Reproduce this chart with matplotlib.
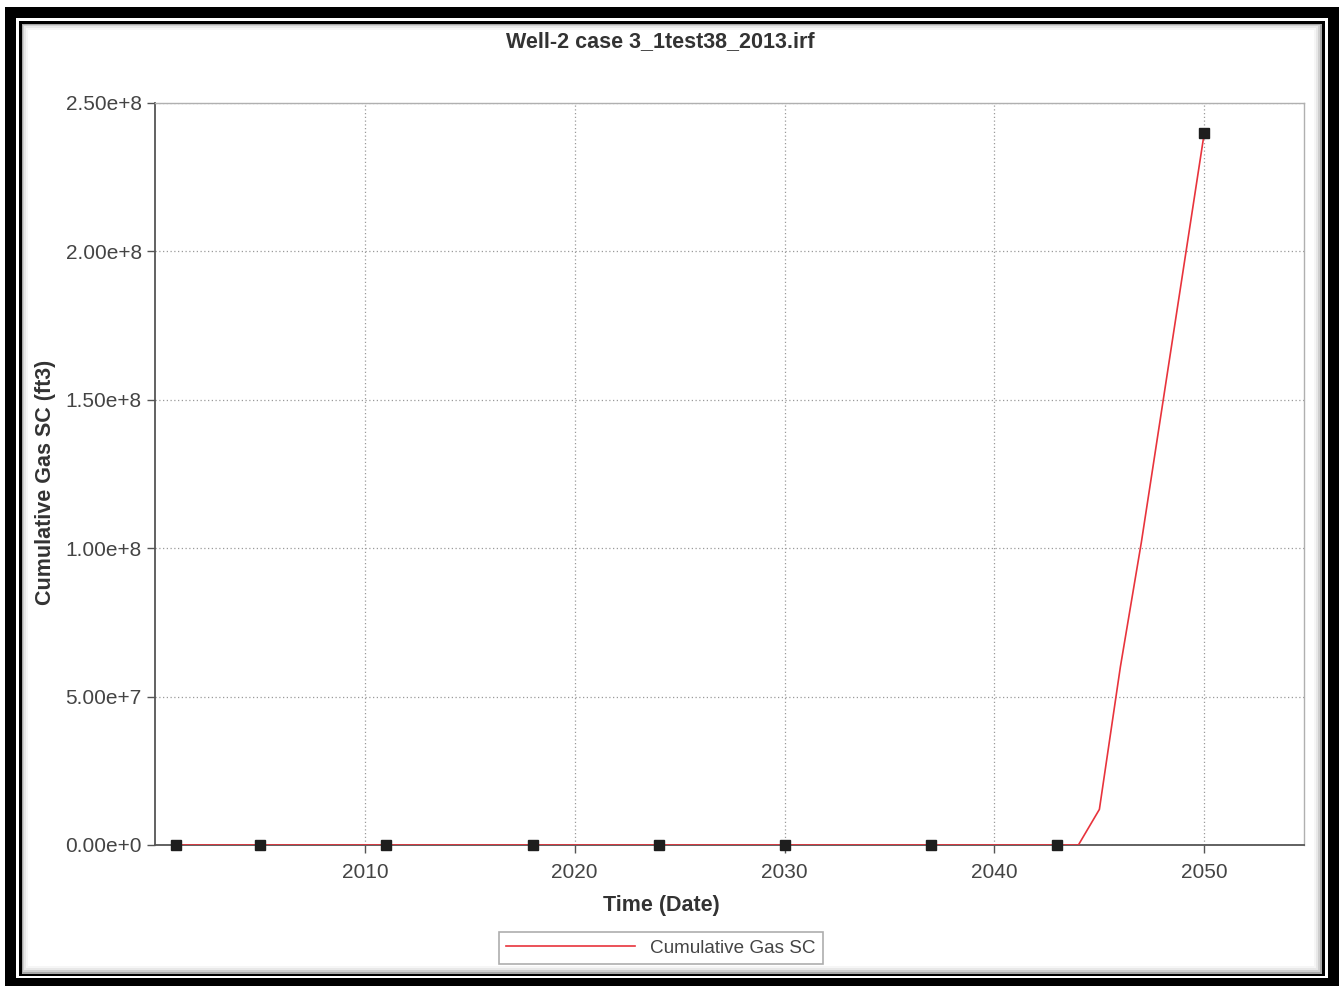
import matplotlib.pyplot as plt
from matplotlib.patches import Rectangle

# data
marker_years = [2001, 2005, 2011, 2018, 2024, 2030, 2037, 2043, 2050]
marker_vals = [0, 0, 0, 0, 0, 0, 0, 0, 2.40e8]

line_years = [2001, 2043, 2044, 2045, 2046, 2047, 2048, 2049, 2050]
line_vals = [0, 0, 0, 1.2e7, 6.0e7, 1.02e8, 1.48e8, 1.94e8, 2.40e8]

yticks = [0, 5e7, 1e8, 1.5e8, 2e8, 2.5e8]
ytick_labels = ["0.00e+0", "5.00e+7", "1.00e+8", "1.50e+8", "2.00e+8", "2.50e+8"]
xticks = [2010, 2020, 2030, 2040, 2050]

W, H = 1344, 990
plt.rcParams['font.family'] = ['Liberation Sans', 'DejaVu Sans']
fig = plt.figure(figsize=(W / 100, H / 100), dpi=100, facecolor='white')


def box(x0, y0, x1, y1, color):
    # pixel box, top-left origin -> figure fraction
    fig.patches.append(Rectangle((x0 / W, 1 - y1 / H), (x1 - x0) / W, (y1 - y0) / H,
                                 transform=fig.transFigure, facecolor=color,
                                 edgecolor='none', zorder=-10))


# picture frame
box(5, 7, 1339, 986, 'black')
box(16, 18, 1328, 978, 'white')
box(19, 21, 1325, 976, 'black')
box(22, 24, 1322, 974, '#a8a8a8')
box(23, 25, 1320, 972, '#cfcfcf')
box(24, 26, 1318, 970, '#e8e8e8')
box(26, 28, 1316, 968, '#f6f6f6')
box(28, 30, 1314, 966, 'white')

ax = fig.add_axes([155 / W, (H - 845) / H, 1149 / W, 742 / H])
ax.set_facecolor('white')

ax.plot(line_years, line_vals, color='#e8333c', lw=1.2, zorder=3, label='Cumulative Gas SC')
ax.plot(marker_years, marker_vals, linestyle='none', marker='s', markersize=6.5,
        color='#1e1e1e', zorder=4, clip_on=False)

ax.set_xlim(2000, 2054.75)
ax.set_ylim(0, 2.5e8)
ax.set_xticks(xticks)
ax.set_yticks(yticks)
ax.set_yticklabels(ytick_labels)
ax.tick_params(axis='both', labelsize=15, colors='#555555', labelcolor='#444444',
               length=6, width=1, direction='out')
ax.tick_params(axis='x', pad=7)
ax.grid(True, color='#9a9a9a', linestyle=(0, (1, 2)), linewidth=0.9)

for side in ['left', 'bottom']:
    ax.spines[side].set_color('#555555')
    ax.spines[side].set_linewidth(1.3)
for side in ['top', 'right']:
    ax.spines[side].set_color('#b0b0b0')
    ax.spines[side].set_linewidth(1.0)

fig.text(46 / W, 1 - 482 / H, 'Cumulative Gas SC (ft3)', ha='center', va='center', rotation=90,
         fontsize=15.5, fontweight='bold', color='#333333')
fig.text(661 / W, 1 - 905 / H, 'Time (Date)', ha='center', va='center',
         fontsize=15.5, fontweight='bold', color='#333333')
fig.text(660 / W, 1 - 42 / H, 'Well-2 case 3_1test38_2013.irf', ha='center', va='center',
         fontsize=15.5, fontweight='bold', color='#333333')

leg = fig.legend(loc='center', bbox_to_anchor=(661 / W, 1 - 948 / H), fontsize=13.6,
                 frameon=True, fancybox=False, handlelength=6.8, borderpad=0.4,
                 labelcolor='#444444')
leg.get_frame().set_edgecolor('#999999')
leg.get_frame().set_linewidth(1.2)

fig.savefig('out.png', dpi=100, facecolor='white')
